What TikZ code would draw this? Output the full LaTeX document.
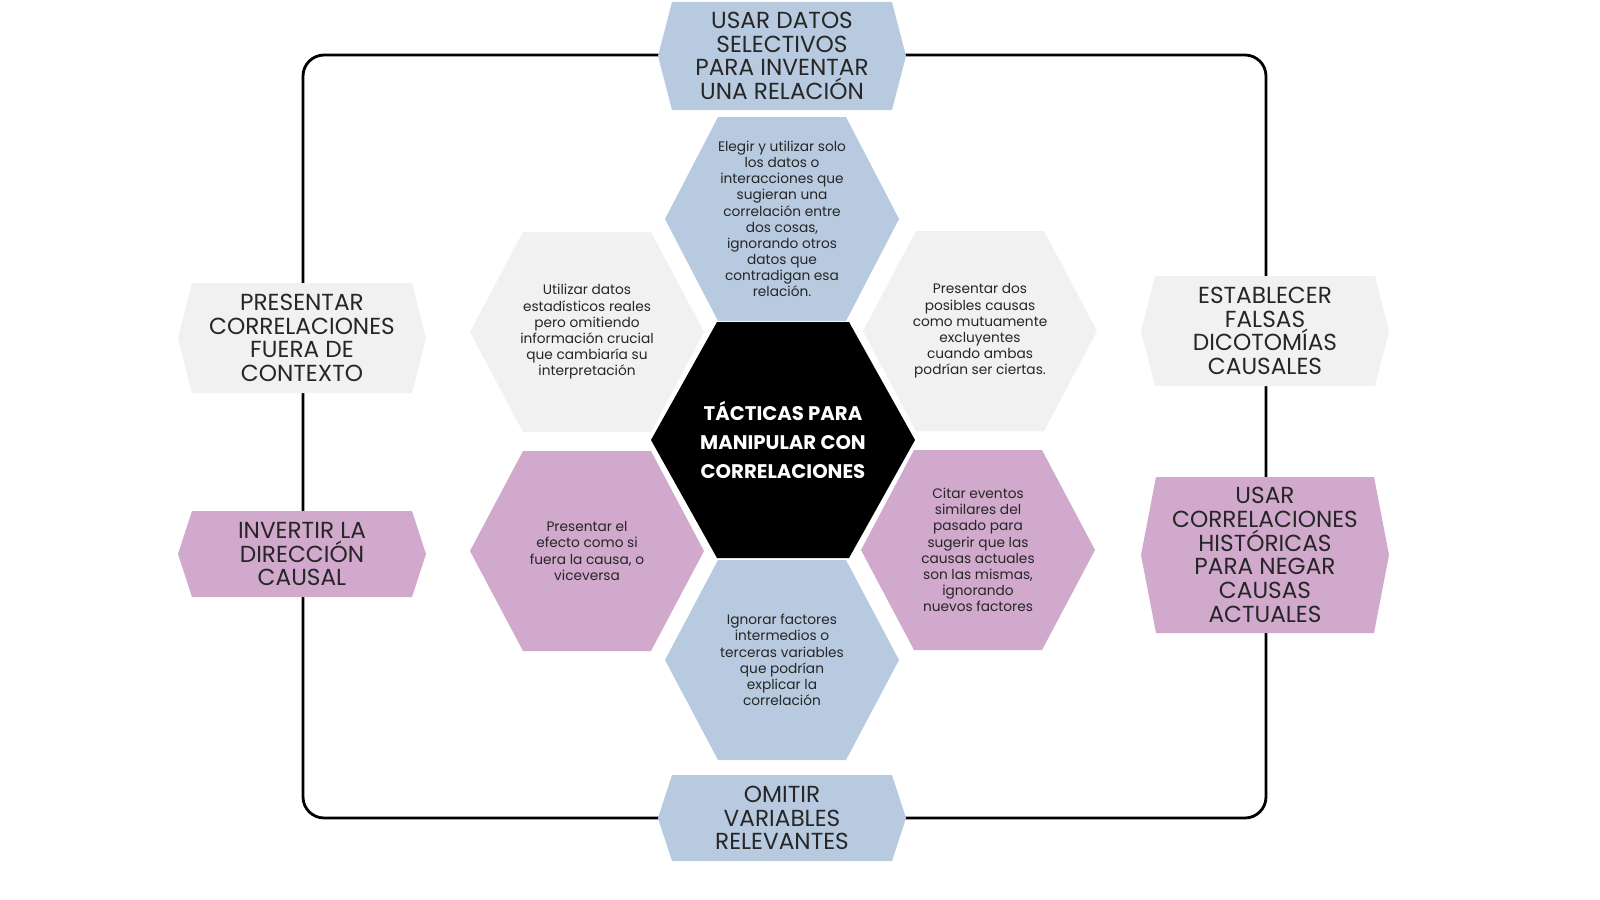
\documentclass[tikz,border=0pt]{standalone}
\usepackage{fontspec}
\setmainfont{Poppins}
\definecolor{hblue}{HTML}{B8CADF}
\definecolor{hgray}{HTML}{F1F1F1}
\definecolor{hpink}{HTML}{D1A9CD}
\newcommand\hexa[7]{% name, cx, cy, hw, hh, inset, color
  \fill[#7] ({#2-#4},#3) -- ({#2-#4+#6},{#3-#5}) -- ({#2+#4-#6},{#3-#5}) -- ({#2+#4},#3)
    -- ({#2+#4-#6},{#3+#5}) -- ({#2-#4+#6},{#3+#5}) -- cycle;
  \coordinate (#1) at (#2,#3);}
\tikzset{
  lab/.style={align=center,text=black!85,font=\fontsize{6.6}{6.75}\selectfont},
  body/.style={align=center,text=black!85,font=\fontsize{3.9}{4.6}\selectfont},
}
\begin{document}
\begin{tikzpicture}[x=0.01cm,y=-0.01cm]
\useasboundingbox (0,0) rectangle (1600,900);
\fill[white] (0,0) rectangle (1600,900);
\draw[line width=0.8pt,rounded corners=6pt] (303,55) rectangle (1266,818);
% outer labels
\hexa{lt}{782}{56}{124}{54}{14}{hblue}
\hexa{lb}{782}{818}{124}{43}{14}{hblue}
\hexa{lul}{302}{338}{124}{55}{14}{hgray}
\hexa{lll}{302}{554}{124}{43}{14}{hpink}
\hexa{lur}{1265}{331}{124}{55}{14}{hgray}
\hexa{llr}{1265}{555}{124}{78}{15}{hpink}
\node[lab] (tlt) at (lt) {USAR DATOS\\SELECTIVOS\\PARA INVENTAR\\UNA RELACIÓN};
\node[lab] (tlb) at (lb) {OMITIR\\VARIABLES\\RELEVANTES};
\node[lab] (tlul) at (lul) {PRESENTAR\\CORRELACIONES\\FUERA DE\\CONTEXTO};
\node[lab] (tlll) at (lll) {INVERTIR LA\\DIRECCIÓN\\CAUSAL};
\node[lab] (tlur) at (lur) {ESTABLECER\\FALSAS\\DICOTOMÍAS\\CAUSALES};
\node[lab] (tllr) at (llr) {USAR\\CORRELACIONES\\HISTÓRICAS\\PARA NEGAR\\CAUSAS\\ACTUALES};
% inner hexes
\hexa{ht}{782}{219}{117}{102}{53}{hblue}
\hexa{hb}{782}{660}{117}{100}{53}{hblue}
\hexa{hul}{587}{332}{117}{100}{53}{hgray}
\hexa{hur}{980}{331}{117}{100}{53}{hgray}
\hexa{hll}{587}{551}{117}{100}{53}{hpink}
\hexa{hlr}{978}{550}{117}{100}{53}{hpink}
\hexa{hc}{783}{440}{132}{118}{66}{black}
\node[body] (tht) at (ht) {Elegir y utilizar solo\\los datos o\\interacciones que\\sugieran una\\correlación entre\\dos cosas,\\ignorando otros\\datos que\\contradigan esa\\relación.};
\node[body] (thb) at (hb) {Ignorar factores\\intermedios o\\terceras variables\\que podrían\\explicar la\\correlación};
\node[body] (thul) at (hul) {Utilizar datos\\estadísticos reales\\pero omitiendo\\información crucial\\que cambiaría su\\interpretación};
\node[body] (thur) at (hur) {Presentar dos\\posibles causas\\como mutuamente\\excluyentes\\cuando ambas\\podrían ser ciertas.};
\node[body] (thll) at (hll) {Presentar el\\efecto como si\\fuera la causa, o\\viceversa};
\node[body] (thlr) at (hlr) {Citar eventos\\similares del\\pasado para\\sugerir que las\\causas actuales\\son las mismas,\\ignorando\\nuevos factores};
\node[align=center,text=white,font=\fontsize{5.6}{8.2}\selectfont\bfseries] (thc) at (hc) {TÁCTICAS PARA\\MANIPULAR CON\\CORRELACIONES};
\end{tikzpicture}
\end{document}
